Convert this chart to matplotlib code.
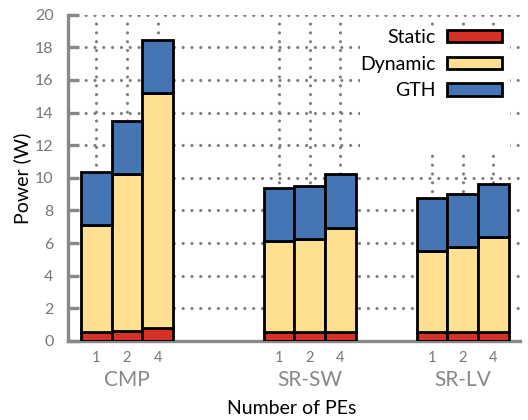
import matplotlib
matplotlib.use("Agg")
import matplotlib.pyplot as plt
from matplotlib.patches import Patch, Rectangle
import numpy as np

# ---- data ----
configs = ["CMP", "SR-SW", "SR-LV"]
pe_labels = ["1", "2", "4"]
static = [[0.55, 0.6, 0.8], [0.55, 0.55, 0.55], [0.55, 0.55, 0.55]]
dynamic = [[6.55, 9.65, 14.4], [5.6, 5.7, 6.4], [4.95, 5.2, 5.85]]
gth = [[3.25, 3.25, 3.25], [3.25, 3.25, 3.3], [3.25, 3.25, 3.25]]
series_names = ["Static", "Dynamic", "GTH"]
y_ticks = [0, 2, 4, 6, 8, 10, 12, 14, 16, 18, 20]

# ---- style / layout ----
colors = ["#d73027", "#fee090", "#4575b4"]
gray = "#888888"
plt.rcParams["font.family"] = ["Lato", "DejaVu Sans"]

W, H = 528, 420
fig = plt.figure(figsize=(W / 100, H / 100), dpi=100)
ax_l, ax_r, ax_b, ax_t = 67.5, 520, 341, 14.7
ax = fig.add_axes([ax_l / W, (H - ax_b) / H, (ax_r - ax_l) / W, (ax_b - ax_t) / H])

bar_w = 1.0
group_starts = [0.44, 6.40, 11.38]
xmax = (ax_r - ax_l) / 30.67

positions = []
for g, start in enumerate(group_starts):
    xs = start + bar_w / 2 + np.arange(len(pe_labels)) * bar_w
    positions.append(xs)
    bottoms = np.zeros(len(pe_labels))
    for s, vals in enumerate([static[g], dynamic[g], gth[g]]):
        ax.bar(xs, vals, bar_w, bottom=bottoms, color=colors[s],
               edgecolor="black", linewidth=2.0, zorder=3)
        bottoms = bottoms + np.array(vals)

all_x = np.concatenate(positions)
ax.set_xticks(all_x)
ax.set_xticklabels(pe_labels * len(configs))
ax.set_xlim(0, xmax)
ax.set_ylim(0, 20)
ax.set_yticks(y_ticks)

# group labels
for g, name in enumerate(configs):
    ax.text(positions[g][1], (ax_b - 380) / (ax_b - ax_t), name,
            transform=ax.get_xaxis_transform(), ha="center", va="center",
            fontsize=15, color=gray)

# spines
for side in ["top", "right"]:
    ax.spines[side].set_visible(False)
for side in ["left", "bottom"]:
    ax.spines[side].set_color(gray)
    ax.spines[side].set_linewidth(2.4)

ax.tick_params(axis="y", direction="in", length=8, width=2.4, color=gray,
               labelcolor="#777777", labelsize=11.5, pad=10)
ax.tick_params(axis="x", length=0, labelcolor="#777777", labelsize=10.5, pad=7)

# dotted grid
ax.set_axisbelow(True)
ax.grid(True, color="#808080", linewidth=2.3, linestyle=(0, (0.01, 2.75)),
        dash_capstyle="round")

# blank legend area
ax.add_patch(Rectangle(((360 - ax_l) / 30.67, 0.585), (510 - 360) / 30.67, 0.962 - 0.585,
                       transform=ax.get_xaxis_transform(), facecolor="white",
                       edgecolor="none", zorder=2))

handles = [Patch(facecolor=c, edgecolor="black", linewidth=2.0) for c in colors]
leg = ax.legend(handles, series_names, loc="upper right",
                bbox_to_anchor=(502 / W, (H - 29) / H), bbox_transform=fig.transFigure,
                frameon=False, markerfirst=False, fontsize=14, borderpad=0,
                borderaxespad=0, handlelength=2.85, handleheight=0.62,
                handletextpad=0.55, labelspacing=0.5)
leg.set_zorder(5)

ax.set_xlabel("Number of PEs", fontsize=14, va="center")
ax.xaxis.set_label_coords((292 - ax_l) / (ax_r - ax_l), (ax_b - 408) / (ax_b - ax_t))
ax.set_ylabel("Power (W)", fontsize=14, va="center")
ax.yaxis.set_label_coords((22 - ax_l) / (ax_r - ax_l), 0.5)

fig.savefig("out.png", dpi=100)
